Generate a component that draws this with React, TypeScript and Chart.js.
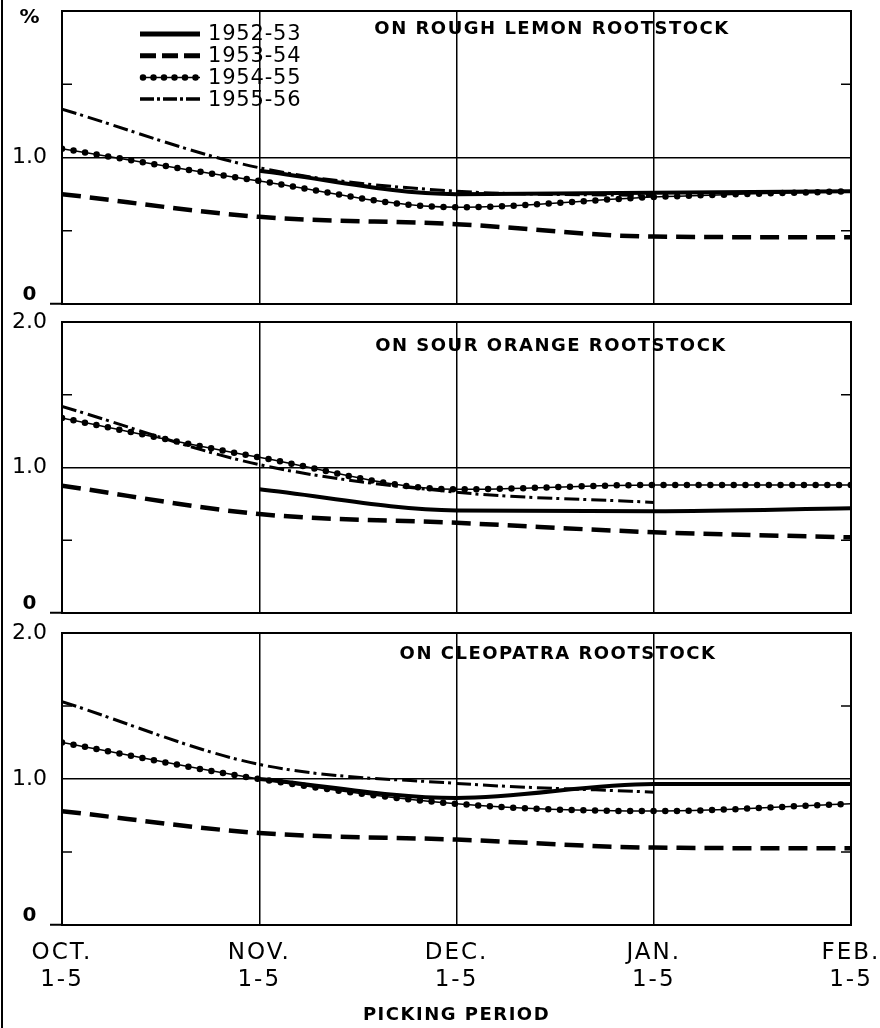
import React, { useEffect, useRef } from 'react';
import { Chart, registerables } from 'chart.js';

Chart.register(...registerables);

// ---------- data ----------
const MONTHS = [0, 1, 2, 3, 4];
const MONTH_LABELS = [
  ['OCT.', '1-5'],
  ['NOV.', '1-5'],
  ['DEC.', '1-5'],
  ['JAN.', '1-5'],
  ['FEB.', '1-5'],
];
const SEASONS = ['1952-53', '1953-54', '1954-55', '1955-56'];
const Y_MIN = 0;
const Y_MAX = 2;
const MINOR_TICKS = [0.5, 1.5];
const PANEL_TITLES = ['ON ROUGH LEMON ROOTSTOCK', 'ON SOUR ORANGE ROOTSTOCK', 'ON CLEOPATRA ROOTSTOCK'];
const X_TITLE = 'PICKING PERIOD';

// Rough lemon rootstock
const ROUGH_LEMON_1952 = [null, 0.91, 0.75, 0.76, 0.77];
const ROUGH_LEMON_1953 = [0.75, 0.595, 0.545, 0.46, 0.455];
const ROUGH_LEMON_1954 = [1.06, 0.84, 0.66, 0.73, 0.77];
const ROUGH_LEMON_1955 = [1.33, 0.93, 0.77, 0.74, null];

// Sour orange rootstock
const SOUR_ORANGE_1952 = [null, 0.85, 0.705, 0.7, 0.72];
const SOUR_ORANGE_1953 = [0.875, 0.68, 0.62, 0.555, 0.52];
const SOUR_ORANGE_1954 = [1.34, 1.07, 0.85, 0.88, 0.88];
const SOUR_ORANGE_1955 = [1.42, 1.02, 0.83, 0.76, null];

// Cleopatra rootstock
const CLEOPATRA_1952 = [null, 1.0, 0.87, 0.965, 0.965];
const CLEOPATRA_1953 = [0.78, 0.63, 0.585, 0.53, 0.525];
const CLEOPATRA_1954 = [1.25, 1.0, 0.83, 0.78, 0.83];
const CLEOPATRA_1955 = [1.53, 1.1, 0.97, 0.91, null];

const PANEL_SERIES = [
  [ROUGH_LEMON_1952, ROUGH_LEMON_1953, ROUGH_LEMON_1954, ROUGH_LEMON_1955],
  [SOUR_ORANGE_1952, SOUR_ORANGE_1953, SOUR_ORANGE_1954, SOUR_ORANGE_1955],
  [CLEOPATRA_1952, CLEOPATRA_1953, CLEOPATRA_1954, CLEOPATRA_1955],
];

// ---------- styles ----------
const FAMILY = '"DejaVu Sans", sans-serif';
const INK = '#000';
const SERIES_STYLE = [
  { width: 4, dash: [] as number[], dotted: false },
  { width: 4.5, dash: [19, 9], dotted: false },
  { width: 6.5, dash: [0, 11.7], dotted: true },
  { width: 3, dash: [15, 4, 3, 5], dotted: false },
];
const LEGEND_STYLE = [
  { width: 5, dash: [] as number[], dotted: false },
  { width: 5, dash: [16, 6], dotted: false },
  { width: 6.5, dash: [0, 10.5], dotted: true },
  { width: 3.5, dash: [14, 3, 3, 3], dotted: false },
];

const PANELS = [
  { top: 0, height: 312, padTop: 11, padBottom: 8, xHeight: 0, titleX: 490, titleY: 18 },
  { top: 312, height: 310, padTop: 10, padBottom: 9, xHeight: 0, titleX: 489, titleY: 24 },
  { top: 622, height: 406, padTop: 11, padBottom: 2, xHeight: 101, titleX: 496, titleY: 21 },
];

function buildDatasets(series: (number | null)[][]) {
  const out: any[] = [];
  series.forEach((vals, i) => {
    const data = MONTHS.map((m, j) => ({ x: m, y: vals[j] }));
    const st = SERIES_STYLE[i];
    const base = {
      data,
      pointRadius: 0,
      borderColor: INK,
      backgroundColor: INK,
      fill: false,
      cubicInterpolationMode: 'monotone',
      spanGaps: false,
    };
    if (st.dotted) {
      out.push({ ...base, label: SEASONS[i], borderWidth: 1.5 });
      out.push({
        ...base,
        label: SEASONS[i] + ' dots',
        borderWidth: st.width,
        borderDash: st.dash,
        borderCapStyle: 'round',
      });
    } else {
      out.push({ ...base, label: SEASONS[i], borderWidth: st.width, borderDash: st.dash, borderCapStyle: 'butt' });
    }
  });
  return out;
}

function patchSpacing(fn: any, spacing: string) {
  return function (this: any, ...args: any[]) {
    const c = this.ctx;
    c.save();
    (c as any).letterSpacing = spacing;
    fn.apply(this, args);
    c.restore();
  };
}

function zeroPad(s: any) {
  s.paddingLeft = 0;
  s.paddingRight = 0;
  s.paddingTop = 0;
  s.paddingBottom = 0;
}

const decorPlugin = {
  id: 'decor',
  beforeDraw(chart: any) {
    const xs = chart.scales.x;
    if (xs && !xs.__patched) {
      xs.drawLabels = patchSpacing(xs.drawLabels, '2px');
      xs.drawTitle = patchSpacing(xs.drawTitle, '1.5px');
      xs.__patched = true;
    }
  },
  afterDraw(chart: any, _args: any, opts: any) {
    const { ctx, chartArea: a } = chart;
    const ys = chart.scales.y;
    ctx.save();
    ctx.strokeStyle = INK;
    ctx.fillStyle = INK;
    // frame
    ctx.lineWidth = 2;
    ctx.strokeRect(a.left, a.top, a.right - a.left, a.bottom - a.top);
    // minor inner ticks
    ctx.lineWidth = 1.5;
    MINOR_TICKS.forEach((v) => {
      const py = ys.getPixelForValue(v);
      ctx.beginPath();
      ctx.moveTo(a.left, py);
      ctx.lineTo(a.left + 10, py);
      ctx.moveTo(a.right - 10, py);
      ctx.lineTo(a.right, py);
      ctx.stroke();
    });
    // panel title
    ctx.font = `bold 18px ${FAMILY}`;
    ctx.letterSpacing = '1.5px';
    ctx.textAlign = 'center';
    ctx.textBaseline = 'middle';
    ctx.fillText(opts.title, a.left + opts.titleX, a.top + opts.titleY);
    // legend
    if (opts.legend) {
      ctx.font = `21px ${FAMILY}`;
      ctx.letterSpacing = '0.8px';
      ctx.textAlign = 'left';
      SEASONS.forEach((s, i) => {
        const y = a.top + 23 + i * 21.7;
        const x0 = a.left + 78;
        const x1 = a.left + 138;
        const st = LEGEND_STYLE[i];
        if (st.dotted) {
          ctx.setLineDash([]);
          ctx.lineWidth = 1.5;
          ctx.beginPath();
          ctx.moveTo(x0, y);
          ctx.lineTo(x1, y);
          ctx.stroke();
          ctx.lineCap = 'round';
        } else {
          ctx.lineCap = 'butt';
        }
        ctx.setLineDash(st.dash);
        ctx.lineWidth = st.width;
        ctx.beginPath();
        ctx.moveTo(x0 + (st.dotted ? 3 : 0), y);
        ctx.lineTo(x1, y);
        ctx.stroke();
        ctx.setLineDash([]);
        ctx.fillText(s, a.left + 146, y + 1);
      });
    }
    ctx.restore();
  },
};

function Panel({ index }: { index: number }) {
  const ref = useRef<HTMLCanvasElement>(null);
  const p = PANELS[index];
  const isTop = index === 0;
  const isBottom = index === PANELS.length - 1;

  useEffect(() => {
    const chart = new Chart(ref.current as HTMLCanvasElement, {
      type: 'line',
      data: { datasets: buildDatasets(PANEL_SERIES[index] as any) },
      plugins: [decorPlugin as any],
      options: {
        animation: false,
        responsive: false,
        devicePixelRatio: 1,
        events: [],
        layout: { padding: { top: p.padTop, bottom: p.padBottom, left: 0, right: 29 } },
        plugins: {
          legend: { display: false },
          tooltip: { enabled: false },
          decor: { title: PANEL_TITLES[index], titleX: p.titleX, titleY: p.titleY, legend: isTop },
        } as any,
        scales: {
          x: {
            type: 'linear',
            min: MONTHS[0],
            max: MONTHS[MONTHS.length - 1],
            ticks: {
              display: isBottom,
              stepSize: 1,
              autoSkip: false,
              maxRotation: 0,
              padding: 14,
              color: INK,
              font: { family: FAMILY, size: 23, lineHeight: 1.2 },
              callback: (v: any) => MONTH_LABELS[Number(v)] ?? '',
            },
            grid: { color: INK, lineWidth: 1.5, drawTicks: false },
            border: { display: false },
            title: {
              display: isBottom,
              text: X_TITLE,
              color: INK,
              padding: 0,
              font: { family: FAMILY, size: 18, weight: 'bold', lineHeight: 1.2 },
            },
            afterFit: (s: any) => {
              s.height = p.xHeight;
              zeroPad(s);
            },
          },
          y: {
            min: Y_MIN,
            max: Y_MAX,
            ticks: {
              stepSize: 1,
              padding: 3,
              crossAlign: 'center',
              color: INK,
              font: (c: any) => {
                const v = c.tick ? c.tick.value : 1;
                if (v === 0) return { family: FAMILY, size: 20, weight: 'bold', lineHeight: 0.95 };
                if (v === Y_MAX && isTop) return { family: FAMILY, size: 20, weight: 'bold', lineHeight: 0.65 };
                return { family: FAMILY, size: 22 };
              },
              callback: (v: any) => {
                const n = Number(v);
                if (n === 0) return ['0', ''];
                if (n === Y_MAX && isTop) return ['', '%'];
                return n.toFixed(1);
              },
            },
            grid: {
              color: (c: any) => (c.tick && c.tick.value === 1 ? INK : 'rgba(0,0,0,0)'),
              lineWidth: 1.5,
              drawTicks: true,
              tickLength: 12,
              tickWidth: 2,
              tickColor: (c: any) => (c.tick && c.tick.value === 0 ? INK : 'rgba(0,0,0,0)'),
            },
            border: { display: false },
            afterFit: (s: any) => {
              s.width = 62;
              zeroPad(s);
            },
          },
        },
      } as any,
    });
    return () => chart.destroy();
  }, []);

  return (
    <canvas
      ref={ref}
      width={880}
      height={p.height}
      style={{ position: 'absolute', left: 0, top: p.top, width: 880, height: p.height, display: 'block' }}
    />
  );
}

export default function App() {
  return (
    <div
      style={{
        position: 'absolute',
        left: 0,
        top: 0,
        width: 880,
        height: 1028,
        background: '#fff',
        overflow: 'hidden',
      }}
    >
      {PANELS.map((_, i) => (
        <Panel key={i} index={i} />
      ))}
      <div style={{ position: 'absolute', left: 1, top: 0, width: 2, height: 1028, background: INK }} />
    </div>
  );
}
